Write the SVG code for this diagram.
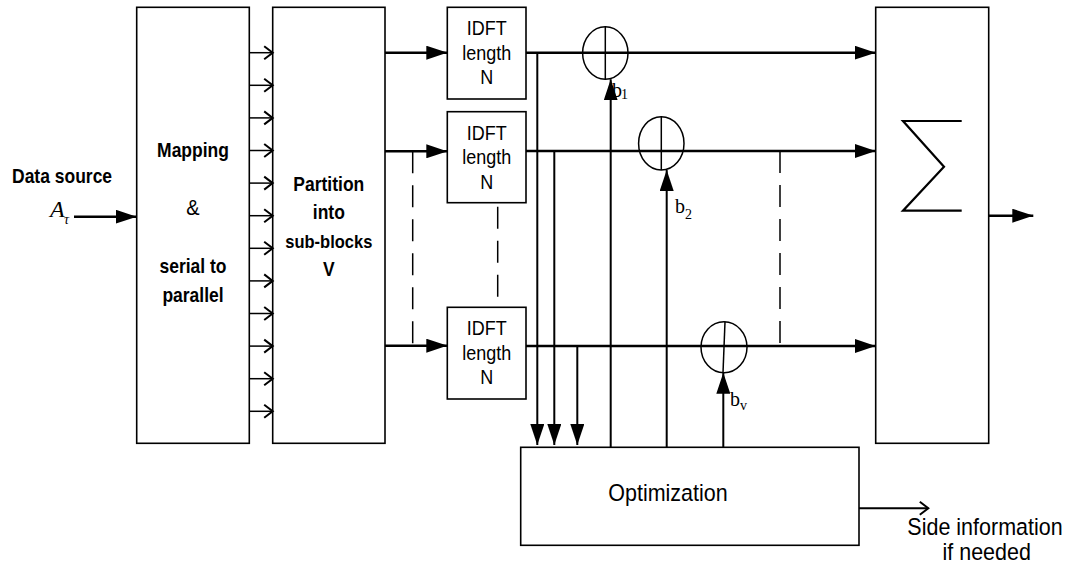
<svg xmlns="http://www.w3.org/2000/svg" width="1071" height="569" viewBox="0 0 1071 569">
<style>
.box{fill:#fff;stroke:#000;stroke-width:1.6}
.sig{fill:none;stroke:#000;stroke-width:2.6}
.ln{fill:none;stroke:#000;stroke-width:2}
.thin{fill:none;stroke:#000;stroke-width:1.5}
.dash{fill:none;stroke:#000;stroke-width:1.5;stroke-dasharray:22 12}
.bt{font-family:"Liberation Sans",Arial,sans-serif;font-weight:bold;font-size:17.5px;fill:#000}
.rt{font-family:"Liberation Sans",Arial,sans-serif;font-size:18px;fill:#000}
.lt{font-family:"Liberation Sans",Arial,sans-serif;font-size:21.5px;fill:#000}
.st{font-family:"Liberation Serif","Times New Roman",serif;fill:#000}
</style>
<defs>
<marker id="fa" markerUnits="userSpaceOnUse" markerWidth="21" markerHeight="14" viewBox="0 0 21 14" refX="21" refY="7" orient="auto">
<path d="M0,0 L21,7 L0,14 z" fill="#000"/>
</marker>
<marker id="oa" markerUnits="userSpaceOnUse" markerWidth="12" markerHeight="16" viewBox="0 0 12 16" refX="10" refY="8" orient="auto">
<path d="M1.5,1.5 L10,8 L1.5,14.5" fill="none" stroke="#000" stroke-width="2"/>
</marker>
</defs>

<g id="data-source">
<text class="bt" transform="translate(12,182.7) scale(1,1.12)">Data source</text>
<text class="st" x="50" y="217.3" font-size="24" font-style="italic">A</text>
<text class="st" x="64" y="224" font-size="14" font-style="italic">τ</text>
</g>

<g id="mapping">
<rect class="box" x="136.7" y="7.3" width="112.6" height="436"/>
<text class="bt" transform="translate(193,157) scale(1,1.12)" text-anchor="middle">Mapping</text>
<text class="rt" transform="translate(193,215) scale(1,1.12)" text-anchor="middle" style="font-size:20px">&amp;</text>
<text class="bt" transform="translate(193,273) scale(1,1.12)" text-anchor="middle">serial to</text>
<text class="bt" transform="translate(193,302) scale(1,1.12)" text-anchor="middle">parallel</text>
</g>

<g id="partition">
<rect class="box" x="272.7" y="7.3" width="112.3" height="436"/>
<text class="bt" transform="translate(328.8,191) scale(1,1.12)" text-anchor="middle">Partition</text>
<text class="bt" transform="translate(328.8,219) scale(1,1.12)" text-anchor="middle">into</text>
<text class="bt" transform="translate(328.8,248) scale(1,1.12)" text-anchor="middle" style="font-size:16.5px">sub-blocks</text>
<text class="bt" transform="translate(328.8,276) scale(1,1.12)" text-anchor="middle">V</text>
</g>

<g id="idft1">
<rect class="box" x="447.3" y="7.3" width="78.7" height="91.7"/>
<text class="rt" transform="translate(486.7,35) scale(1,1.12)" text-anchor="middle">IDFT</text>
<text class="rt" transform="translate(486.7,59.5) scale(1,1.12)" text-anchor="middle">length</text>
<text class="rt" transform="translate(486.7,84.3) scale(1,1.12)" text-anchor="middle">N</text>
</g>
<g id="idft2">
<rect class="box" x="447.3" y="111.7" width="78.7" height="91"/>
<text class="rt" transform="translate(486.7,139.5) scale(1,1.12)" text-anchor="middle">IDFT</text>
<text class="rt" transform="translate(486.7,164) scale(1,1.12)" text-anchor="middle">length</text>
<text class="rt" transform="translate(486.7,188.7) scale(1,1.12)" text-anchor="middle">N</text>
</g>
<g id="idft3">
<rect class="box" x="447.3" y="307.3" width="78.7" height="91.7"/>
<text class="rt" transform="translate(486.7,335) scale(1,1.12)" text-anchor="middle">IDFT</text>
<text class="rt" transform="translate(486.7,359.5) scale(1,1.12)" text-anchor="middle">length</text>
<text class="rt" transform="translate(486.7,384.3) scale(1,1.12)" text-anchor="middle">N</text>
</g>

<g id="adder1">
<ellipse class="thin" cx="605.3" cy="53" rx="22.7" ry="26.3"/>
<line class="thin" x1="605.3" y1="26.7" x2="605.3" y2="79.3"/>
</g>
<g id="adder2">
<ellipse class="thin" cx="661.3" cy="143.4" rx="22.7" ry="26.6"/>
<line class="thin" x1="661.3" y1="116.8" x2="661.3" y2="170"/>
</g>
<g id="adder3">
<ellipse class="thin" cx="724" cy="347.2" rx="23" ry="25.5"/>
<line class="thin" x1="725" y1="321.7" x2="723" y2="372.7"/>
</g>

<g id="sum">
<rect class="box" x="875.7" y="7.3" width="113" height="436"/>
<polyline fill="none" stroke="#000" stroke-width="2.2" points="961.7,121 903,121 944,166.7 903,210.7 961.7,210.7"/>
</g>

<g id="optimization">
<rect class="box" x="520.7" y="447.3" width="338.3" height="98"/>
<text class="lt" transform="translate(668,501) scale(1,1.12)" text-anchor="middle">Optimization</text>
</g>

<g id="side-info">
<text class="lt" transform="translate(985,535) scale(1,1.12)" text-anchor="middle">Side information</text>
<text class="lt" transform="translate(986.7,560) scale(1,1.12)" text-anchor="middle">if needed</text>
</g>

<g id="labels">
<text class="st" x="612" y="96.7" font-size="20">b</text>
<text class="st" x="621" y="99" font-size="14">1</text>
<text class="st" x="675" y="213.3" font-size="20">b</text>
<text class="st" x="685" y="219" font-size="14">2</text>
<text class="st" x="730" y="406" font-size="20">b</text>
<text class="st" x="740" y="410" font-size="14">v</text>
</g>

<g id="connectors">
<line class="sig" x1="74" y1="216.7" x2="136.7" y2="216.7" marker-end="url(#fa)"/>
<g class="thin">
<line x1="249.3" y1="52.7" x2="272.7" y2="52.7" marker-end="url(#oa)"/>
<line x1="249.3" y1="85.3" x2="272.7" y2="85.3" marker-end="url(#oa)"/>
<line x1="249.3" y1="117.9" x2="272.7" y2="117.9" marker-end="url(#oa)"/>
<line x1="249.3" y1="150.5" x2="272.7" y2="150.5" marker-end="url(#oa)"/>
<line x1="249.3" y1="183.1" x2="272.7" y2="183.1" marker-end="url(#oa)"/>
<line x1="249.3" y1="215.7" x2="272.7" y2="215.7" marker-end="url(#oa)"/>
<line x1="249.3" y1="248.3" x2="272.7" y2="248.3" marker-end="url(#oa)"/>
<line x1="249.3" y1="280.9" x2="272.7" y2="280.9" marker-end="url(#oa)"/>
<line x1="249.3" y1="313.5" x2="272.7" y2="313.5" marker-end="url(#oa)"/>
<line x1="249.3" y1="346.1" x2="272.7" y2="346.1" marker-end="url(#oa)"/>
<line x1="249.3" y1="378.7" x2="272.7" y2="378.7" marker-end="url(#oa)"/>
<line x1="249.3" y1="411.3" x2="272.7" y2="411.3" marker-end="url(#oa)"/>
</g>
<line class="sig" x1="385" y1="52.7" x2="447.3" y2="52.7" marker-end="url(#fa)"/>
<line class="sig" x1="385" y1="151.3" x2="447.3" y2="151.3" marker-end="url(#fa)"/>
<line class="sig" x1="385" y1="345.7" x2="447.3" y2="345.7" marker-end="url(#fa)"/>
<line class="dash" x1="412.7" y1="151.3" x2="412.7" y2="345.7"/>
<line class="dash" x1="497.7" y1="202.7" x2="497.7" y2="307.3" stroke-dashoffset="-4"/>
<line class="sig" x1="526" y1="52.7" x2="875.7" y2="52.7" marker-end="url(#fa)"/>
<line class="sig" x1="526" y1="151" x2="875.7" y2="151" marker-end="url(#fa)"/>
<line class="sig" x1="526" y1="346" x2="875.7" y2="346" marker-end="url(#fa)"/>
<line class="dash" x1="780" y1="151" x2="780" y2="346"/>
<line class="ln" x1="537.3" y1="52.7" x2="537.3" y2="445" marker-end="url(#fa)"/>
<line class="ln" x1="554.3" y1="151" x2="554.3" y2="445" marker-end="url(#fa)"/>
<line class="ln" x1="577.3" y1="346" x2="577.3" y2="445" marker-end="url(#fa)"/>
<line class="ln" x1="610.7" y1="447.3" x2="610.7" y2="79.3" marker-end="url(#fa)"/>
<line class="ln" x1="666.7" y1="447.3" x2="666.7" y2="170" marker-end="url(#fa)"/>
<line class="ln" x1="723.3" y1="447.3" x2="723.3" y2="372.7" marker-end="url(#fa)"/>
<line class="sig" x1="988.7" y1="215.7" x2="1033.3" y2="215.7" marker-end="url(#fa)"/>
<line class="ln" x1="859" y1="508.3" x2="928.3" y2="508.3" marker-end="url(#oa)"/>
</g>
</svg>
